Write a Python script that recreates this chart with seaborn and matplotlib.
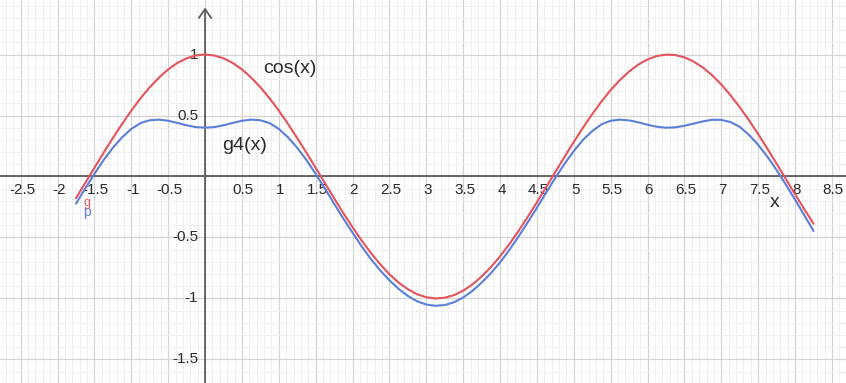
import matplotlib
matplotlib.use("Agg")
import matplotlib.pyplot as plt
import pandas as pd
import seaborn as sns
from matplotlib.ticker import MultipleLocator

# Sample positions along x
x_vals = [-1.75, -1.625, -1.5, -1.375, -1.25, -1.125, -1.0, -0.875, -0.75, -0.625,
          -0.5, -0.375, -0.25, -0.125, 0.0, 0.125, 0.25, 0.375, 0.5, 0.625,
          0.75, 0.875, 1.0, 1.125, 1.25, 1.375, 1.5, 1.625, 1.75, 1.875,
          2.0, 2.125, 2.25, 2.375, 2.5, 2.625, 2.75, 2.875, 3.0, 3.125,
          3.25, 3.375, 3.5, 3.625, 3.75, 3.875, 4.0, 4.125, 4.25, 4.375,
          4.5, 4.625, 4.75, 4.875, 5.0, 5.125, 5.25, 5.375, 5.5, 5.625,
          5.75, 5.875, 6.0, 6.125, 6.25, 6.375, 6.5, 6.625, 6.75, 6.875,
          7.0, 7.125, 7.25, 7.375, 7.5, 7.625, 7.75, 7.875, 8.0, 8.125, 8.25]

# cos(x)
cos_vals = [-0.178, -0.054, 0.071, 0.195, 0.315, 0.431, 0.540, 0.641, 0.732, 0.811,
            0.878, 0.931, 0.969, 0.992, 1.000, 0.992, 0.969, 0.931, 0.878, 0.811,
            0.732, 0.641, 0.540, 0.431, 0.315, 0.195, 0.071, -0.054, -0.178, -0.300,
            -0.416, -0.526, -0.628, -0.720, -0.801, -0.870, -0.924, -0.965, -0.990, -1.000,
            -0.994, -0.973, -0.936, -0.885, -0.820, -0.743, -0.654, -0.555, -0.447, -0.331,
            -0.211, -0.087, 0.038, 0.162, 0.284, 0.401, 0.512, 0.615, 0.709, 0.791,
            0.861, 0.918, 0.960, 0.988, 0.999, 0.996, 0.977, 0.942, 0.893, 0.830,
            0.754, 0.666, 0.567, 0.461, 0.347, 0.227, 0.104, -0.021, -0.146, -0.268, -0.387]

# g4(x)
g4_vals = [-0.223, -0.099, 0.021, 0.135, 0.235, 0.321, 0.390, 0.438, 0.461, 0.466,
           0.457, 0.439, 0.420, 0.405, 0.400, 0.405, 0.420, 0.439, 0.457, 0.466,
           0.461, 0.438, 0.390, 0.321, 0.235, 0.135, 0.021, -0.099, -0.223, -0.345,
           -0.461, -0.574, -0.678, -0.770, -0.851, -0.922, -0.979, -1.023, -1.050, -1.060,
           -1.054, -1.031, -0.992, -0.938, -0.870, -0.793, -0.704, -0.603, -0.492, -0.376,
           -0.256, -0.132, -0.010, 0.105, 0.209, 0.301, 0.372, 0.428, 0.457, 0.466,
           0.460, 0.444, 0.424, 0.408, 0.400, 0.403, 0.416, 0.434, 0.452, 0.465,
           0.464, 0.446, 0.407, 0.341, 0.259, 0.162, 0.052, -0.067, -0.191, -0.318, -0.447]

x_ticks = [-2.5, -2, -1.5, -1, -0.5, 0.5, 1, 1.5, 2, 2.5, 3, 3.5, 4, 4.5,
           5, 5.5, 6, 6.5, 7, 7.5, 8, 8.5]
y_ticks = [-1.5, -1, -0.5, 0.5, 1]

RED = "#e5535c"
BLUE = "#5b7fd8"
AXIS = "#5c5c5c"
TEXT = "#2a2a2a"

sns.set_style("white")
plt.rcParams["font.family"] = ["Liberation Sans", "DejaVu Sans"]

fig = plt.figure(figsize=(8.46, 3.83), dpi=100)
ax = fig.add_axes([0, 0, 1, 1])
ax.set_xlim(-2.78, 8.69)
ax.set_ylim(-1.693, 1.447)

# Grid: major every 0.5, minor every 0.1
ax.xaxis.set_major_locator(MultipleLocator(0.5))
ax.yaxis.set_major_locator(MultipleLocator(0.5))
ax.xaxis.set_minor_locator(MultipleLocator(0.1))
ax.yaxis.set_minor_locator(MultipleLocator(0.1))
ax.grid(which="major", color="#d4d4d4", lw=0.9)
ax.grid(which="minor", color="#efefef", lw=0.7)
ax.set_axisbelow(True)
ax.tick_params(which="both", length=0, labelbottom=False, labelleft=False)
for s in ax.spines.values():
    s.set_visible(False)

# Coordinate axes
ax.axhline(0, color=AXIS, lw=1.3, zorder=2)
ax.annotate("", xy=(0, 1.385), xytext=(0, -1.75),
            arrowprops=dict(arrowstyle="->,head_length=0.4,head_width=0.28",
                            color=AXIS, lw=1.3, mutation_scale=16,
                            shrinkA=0, shrinkB=0),
            zorder=2)

# Axis numbers
for t in x_ticks:
    ax.annotate(f"{t:g}", (t, 0), xytext=(1, -9.6), textcoords="offset points",
                ha="center", va="center", fontsize=11, color=TEXT, zorder=3)
for t in y_ticks:
    ax.annotate(f"{t:g}", (0, t), xytext=(-5, 0), textcoords="offset points",
                ha="right", va="center", fontsize=11, color=TEXT, zorder=3)

# Curves
df = pd.DataFrame({"x": x_vals, "cos": cos_vals, "g4": g4_vals})
sns.lineplot(data=df, x="x", y="cos", ax=ax, color=RED, lw=1.5, zorder=4,
             sort=False)
sns.lineplot(data=df, x="x", y="g4", ax=ax, color=BLUE, lw=1.5, zorder=4,
             sort=False)
ax.set_xlabel("")
ax.set_ylabel("")

# Labels
ax.text(1.152, 0.889, "cos(x)", fontsize=14, color=TEXT, ha="center",
        va="center", zorder=5)
ax.text(0.542, 0.258, "g4(x)", fontsize=14, color=TEXT, ha="center",
        va="center", zorder=5)
ax.text(7.72, -0.215, "x", fontsize=14, color=TEXT, ha="center",
        va="center", zorder=5)
ax.text(-1.60, -0.29, "p", fontsize=10, color=BLUE, ha="center",
        va="center", zorder=5)
ax.text(-1.60, -0.215, "g", fontsize=9, color=RED, ha="center",
        va="center", zorder=5)

fig.savefig("out.png", dpi=100)
